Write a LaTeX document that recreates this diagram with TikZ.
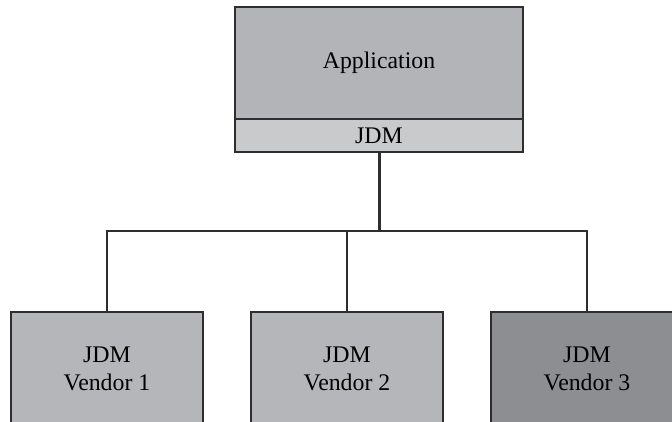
\documentclass[tikz,border=0pt]{standalone}
\usepackage{fontspec}
\setmainfont{Liberation Serif}
\definecolor{linec}{HTML}{2E2E2E}
\definecolor{appfill}{HTML}{B3B4B8}
\definecolor{jdmfill}{HTML}{C9CACC}
\definecolor{vfill}{HTML}{B5B6B9}
\definecolor{vdark}{HTML}{8D8E92}
\begin{document}
\begin{tikzpicture}[x=1pt,y=-1pt,
  box/.style={draw=linec, line width=1.6pt, inner sep=0pt, align=center,
    font=\fontsize{23.8}{28.5}\selectfont, text=black},
  conn/.style={draw=linec, line width=1.8pt},
  stem/.style={draw=linec, line width=3pt}]
\useasboundingbox (0,0) rectangle (672,422);
\begin{scope}
\clip (0,0) rectangle (672,422);
\node[box, fill=appfill, minimum width=288pt, minimum height=112pt] (app) at (379,63) {Application};
\node[box, fill=jdmfill, minimum width=288pt, minimum height=33pt] (jdm) at (379,135.5) {JDM};
\node[box, fill=vfill, minimum width=192pt, minimum height=114pt] (v1) at (107,369) {JDM\\Vendor 1};
\node[box, fill=vfill, minimum width=192pt, minimum height=114pt] (v2) at (347,369) {JDM\\Vendor 2};
\node[box, fill=vdark, minimum width=192pt, minimum height=114pt] (v3) at (587,369) {JDM\\Vendor 3};
\coordinate (hub) at (379,231);
\draw[stem] (jdm.south) -- (hub);
\draw[conn] (v1.north) |- (hub) -| (v3.north);
\draw[conn] (hub -| v2.north) -- (v2.north);
\end{scope}
\end{tikzpicture}
\end{document}
